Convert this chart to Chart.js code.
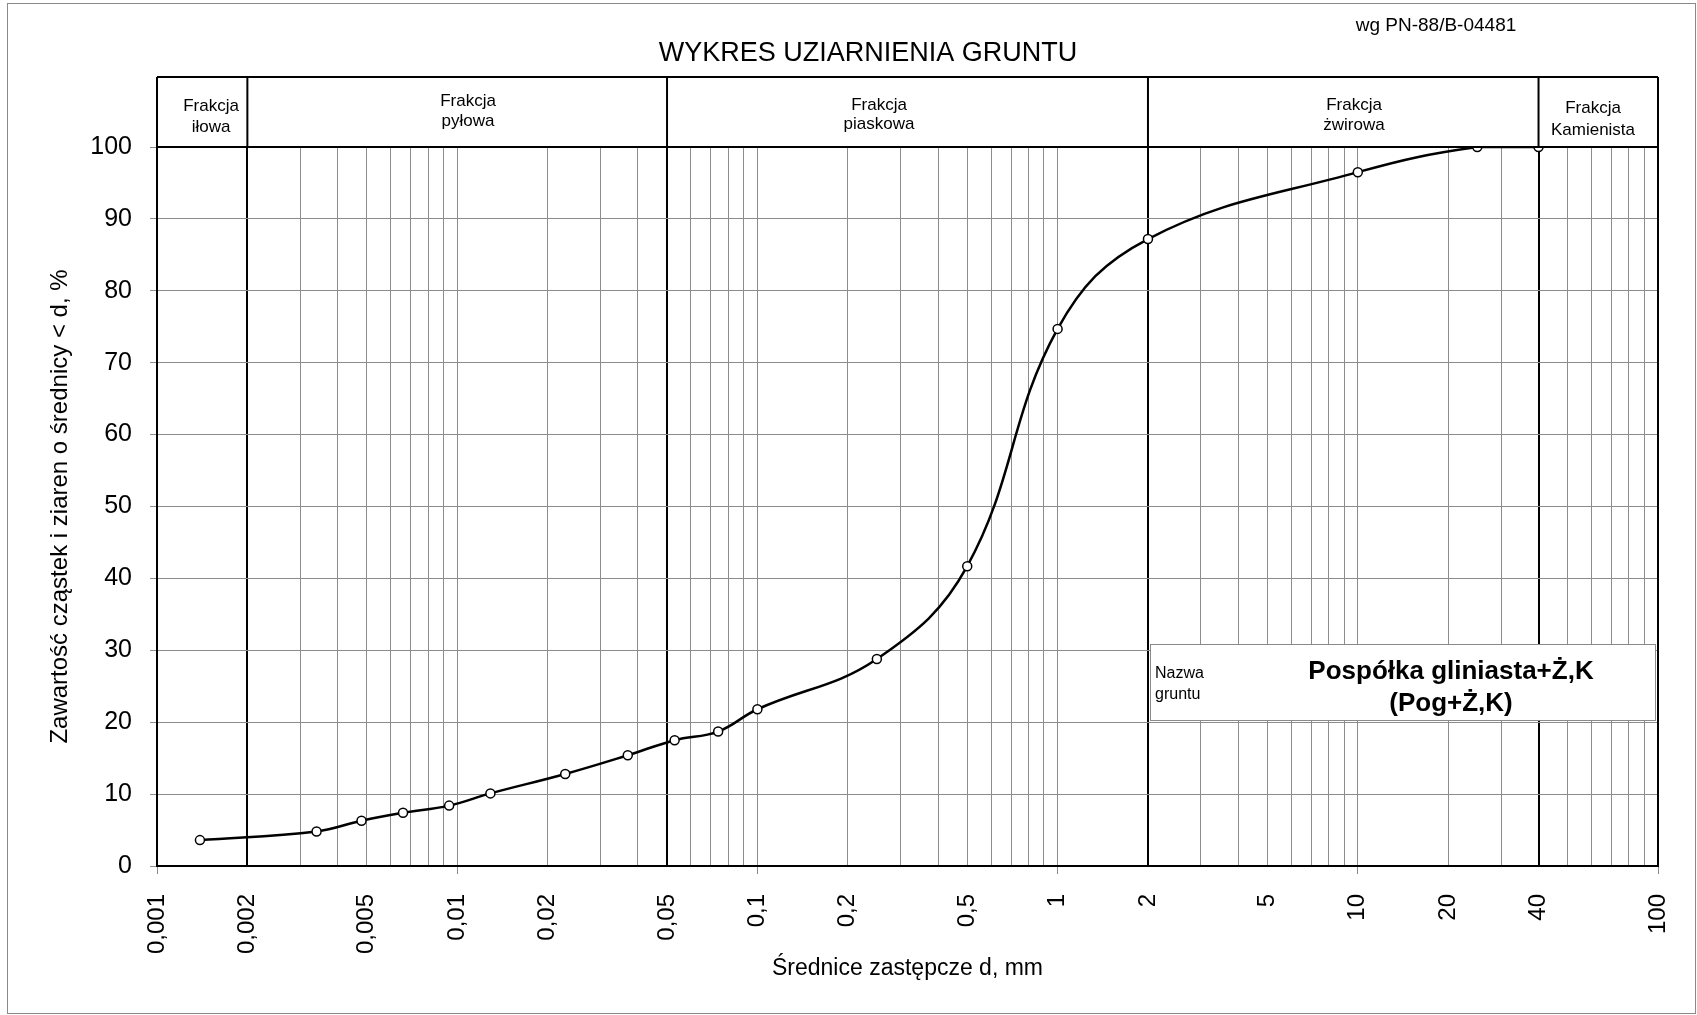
<!DOCTYPE html>
<html lang="pl">
<head>
<meta charset="utf-8">
<title>Wykres uziarnienia gruntu</title>
<script src="https://cdn.jsdelivr.net/npm/chart.js@4.4.1/dist/chart.umd.min.js"></script>
<style>
html,body{margin:0;padding:0;background:#fff;}
canvas{display:block;}
</style>
</head>
<body>
<canvas id="cGrain" width="1697" height="1015"></canvas>
<script>
var SIZES   = [0.00139,0.0034,0.0048,0.0066,0.0094,0.0129,0.0229,0.037,0.053,0.074,0.1,0.25,0.5,1,2,10,25,40];
var PASSING = [3.6,4.8,6.3,7.4,8.4,10.1,12.8,15.4,17.5,18.7,21.8,28.8,41.7,74.7,87.2,96.5,100,100];

var X_LABELS = [0.001,0.002,0.005,0.01,0.02,0.05,0.1,0.2,0.5,1,2,5,10,20,40,100];
var X_BOUNDS = [0.002,0.05,2,40];           // fraction limits (thick lines)
var Y_LABELS = [0,10,20,30,40,50,60,70,80,90,100];

var FRACTIONS = [["Frakcja","iłowa"],["Frakcja","pyłowa"],["Frakcja","piaskowa"],["Frakcja","żwirowa"],["Frakcja","Kamienista"]];
var SOIL_LABEL = ["Nazwa","gruntu"];
var SOIL_NAME  = ["Pospółka gliniasta+Ż,K","(Pog+Ż,K)"];

var TITLE = "WYKRES UZIARNIENIA GRUNTU";
var NORM  = "wg PN-88/B-04481";

// ── helpers ──
var FONT = "'Liberation Sans', Arial, sans-serif";
var GRID = "#8c8c8c";
var HEAD_TOP = 77;
// x centre, y of line 1, y of line 2 for header labels
var HEAD_POS = [[211,106,127],[468,101,121],[879,105,124],[1354,105,125],[1593,108,130]];

// log grid: 1..9 x each decade
var GRID_X = [];
for (var k=-3;k<=1;k++){
  for (var m=1;m<=9;m++) GRID_X.push(parseFloat((m*Math.pow(10,k)).toPrecision(6)));
}
GRID_X.push(100);

function near(a,b){return Math.abs(a-b)/b<1e-6;}
function isBound(v){return X_BOUNDS.some(function(b){return near(v,b);});}
function isLabel(v){return X_LABELS.some(function(b){return near(v,b);});}
function isDecade(v){var l=Math.log10(v);return Math.abs(l-Math.round(l))<1e-6;}

function txt(c,s,x,y,size,align,bold){
  c.font=(bold?"bold ":"")+size+"px "+FONT;
  c.textAlign=align||"center";
  c.textBaseline="middle";
  c.fillStyle="#000";
  c.fillText(s,x,y);
}

var deco={
  id:"deco",
  beforeDraw:function(ch){
    var c=ch.ctx;
    c.save();
    c.fillStyle="#fff";
    c.fillRect(0,0,ch.width,ch.height);
    c.strokeStyle="#8a8a8a";
    c.lineWidth=1;
    c.strokeRect(7.5,3.5,ch.width-9,ch.height-5);
    c.restore();
  },
  afterDraw:function(ch){
    var c=ch.ctx,a=ch.chartArea,x=ch.scales.x;
    c.save();

    // header band with fraction names
    c.fillStyle="#fff";
    c.fillRect(a.left,HEAD_TOP,a.right-a.left,a.top-HEAD_TOP);
    c.strokeStyle="#000";
    c.lineWidth=2;
    c.beginPath();
    c.moveTo(a.left,HEAD_TOP);c.lineTo(a.right,HEAD_TOP);
    c.moveTo(a.left,a.top);c.lineTo(a.right,a.top);
    c.moveTo(a.left,HEAD_TOP);c.lineTo(a.left,a.bottom);
    c.moveTo(a.right,HEAD_TOP);c.lineTo(a.right,a.bottom);
    X_BOUNDS.forEach(function(v){
      var p=x.getPixelForValue(v);
      c.moveTo(p,HEAD_TOP);c.lineTo(p,a.top);
    });
    c.stroke();

    FRACTIONS.forEach(function(f,i){
      var p=HEAD_POS[i];
      txt(c,f[0],p[0],p[1],17);
      txt(c,f[1],p[0],p[2],17);
    });

    // titles
    txt(c,TITLE,868,54,27);
    txt(c,NORM,1436,26,19);

    // soil name box
    c.fillStyle="#fff";
    c.fillRect(1150,644,505,76);
    c.strokeStyle="#8a8a8a";
    c.lineWidth=1;
    c.strokeRect(1150.5,644.5,505,76);
    txt(c,SOIL_LABEL[0],1155,674,16,"left");
    txt(c,SOIL_LABEL[1],1155,695,16,"left");
    txt(c,SOIL_NAME[0],1451,672,26,"center",true);
    txt(c,SOIL_NAME[1],1451,704,26,"center",true);

    c.restore();
  }
};

new Chart(document.getElementById("cGrain"),{
  type:"line",
  data:{
    datasets:[{
      data:SIZES.map(function(d,i){return{x:d,y:PASSING[i]};}),
      borderColor:"#000",
      borderWidth:2.5,
      tension:0.4,
      pointRadius:4.5,
      pointBackgroundColor:"#fff",
      pointBorderColor:"#000",
      pointBorderWidth:1.5
    }]
  },
  options:{
    responsive:false,
    animation:false,
    devicePixelRatio:1,
    layout:{padding:{top:147,right:39,bottom:0,left:0}},
    plugins:{legend:{display:false},tooltip:{enabled:false}},
    scales:{
      x:{
        type:"logarithmic",
        min:0.001,
        max:100,
        afterBuildTicks:function(s){s.ticks=GRID_X.map(function(v){return{value:v};});},
        afterFit:function(s){s.height=149;s.paddingLeft=0;s.paddingRight=0;},
        ticks:{
          autoSkip:false,
          minRotation:90,
          maxRotation:90,
          padding:20,
          color:"#000",
          font:{family:FONT,size:24},
          callback:function(v){return isLabel(v)?String(v).replace(".",","):"";}
        },
        grid:{
          color:function(ctx){return ctx.tick&&isBound(ctx.tick.value)?"#000":GRID;},
          lineWidth:function(ctx){return ctx.tick&&isBound(ctx.tick.value)?2:1;},
          tickColor:function(ctx){return ctx.tick&&isDecade(ctx.tick.value)?GRID:"rgba(0,0,0,0)";},
          tickLength:8
        },
        border:{color:"#000",width:2},
        title:{display:true,text:"Średnice zastępcze d, mm",color:"#000",font:{family:FONT,size:23},padding:{top:0,bottom:33}}
      },
      y:{
        min:0,
        max:100,
        afterBuildTicks:function(s){s.ticks=Y_LABELS.map(function(v){return{value:v};});},
        afterFit:function(s){s.width=157;},
        ticks:{color:"#000",padding:18,font:{family:FONT,size:25}},
        grid:{color:GRID,tickColor:GRID,tickLength:7},
        border:{color:"#000",width:2},
        title:{display:true,text:"Zawartość cząstek i ziaren o średnicy < d, %",color:"#000",font:{family:FONT,size:24},padding:{top:46,bottom:0}}
      }
    }
  },
  plugins:[deco]
});
</script>
</body>
</html>
